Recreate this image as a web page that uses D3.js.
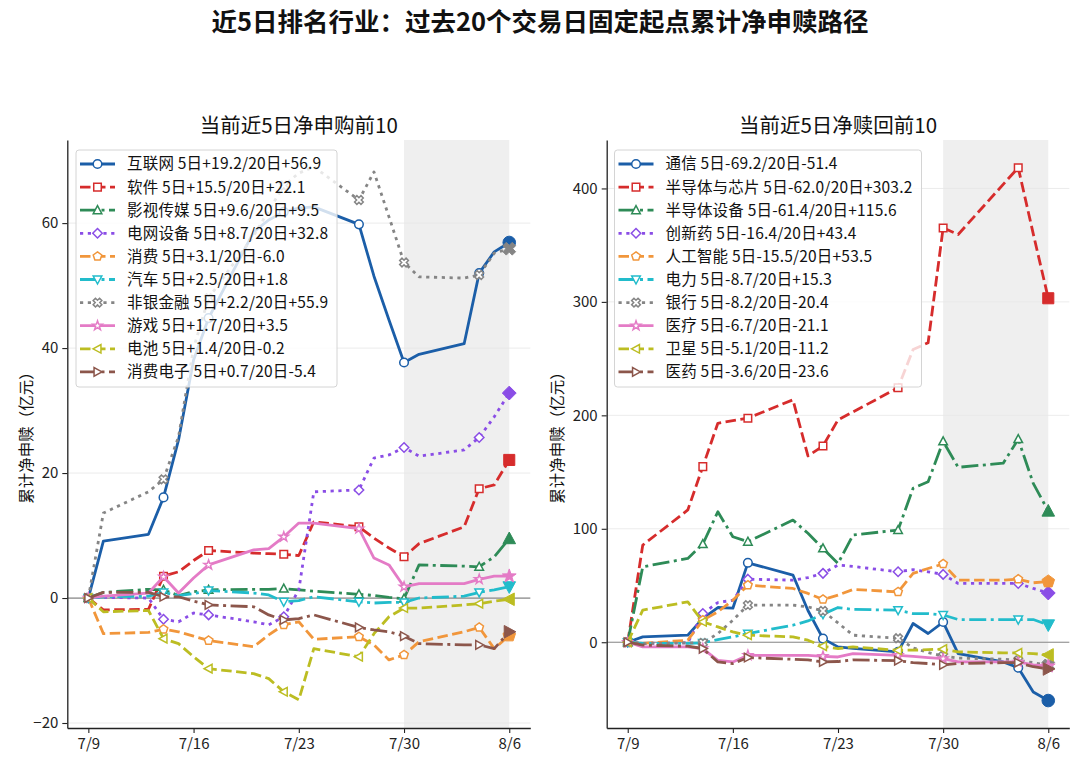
<!DOCTYPE html>
<html><head><meta charset="utf-8">
<script src="https://cdn.jsdelivr.net/npm/d3@7"></script>
<style>
body{margin:0;background:#fff;}
text{font-family:"Noto Sans CJK SC","Noto Sans",sans-serif;}
</style>
</head><body>
<svg id="c" width="1080" height="764"></svg>
<script>
// ---------- data ----------
const dates = ["2025-07-09","2025-07-10","2025-07-13","2025-07-14","2025-07-15","2025-07-16","2025-07-17",
  "2025-07-20","2025-07-21","2025-07-22","2025-07-23","2025-07-24","2025-07-27","2025-07-28","2025-07-29",
  "2025-07-30","2025-07-31","2025-08-03","2025-08-04","2025-08-05","2025-08-06"];
const xTickDates = ["2025-07-09","2025-07-16","2025-07-23","2025-07-30","2025-08-06"];
const xTickLabels = ["7/9","7/16","7/23","7/30","8/6"];
const shadeStart = "2025-07-30";
const shadeEnd = "2025-08-06";

const leftTitle = "当前近5日净申购前10";
const leftLabels = ["互联网 5日+19.2/20日+56.9","软件 5日+15.5/20日+22.1","影视传媒 5日+9.6/20日+9.5",
  "电网设备 5日+8.7/20日+32.8","消费 5日+3.1/20日-6.0","汽车 5日+2.5/20日+1.8","非银金融 5日+2.2/20日+55.9",
  "游戏 5日+1.7/20日+3.5","电池 5日+1.4/20日-0.2","消费电子 5日+0.7/20日-5.4"];
const leftValues = [
  [0,9.1,10.2,16.1,25.3,38.1,44.8,58.6,60.5,61.8,62.4,62.6,59.8,51.5,44.5,37.7,39.0,40.7,52.0,55.4,56.9],
  [0,-1.9,-1.8,3.5,4.2,6.0,7.6,7.2,7.1,7.0,6.8,12.2,11.4,9.6,8.0,6.6,8.7,11.4,17.5,18.1,22.1],
  [0,0.9,1.4,1.3,0.4,1.0,1.3,1.4,1.4,1.5,1.3,1.1,0.6,0.4,0.1,-0.1,5.3,5.1,5.0,6.6,9.5],
  [0,0.1,0.0,-3.4,-3.8,-2.4,-2.7,-3.8,-4.3,-3.0,1.3,17.0,17.3,22.4,22.9,24.1,22.7,23.7,25.7,29.0,32.8],
  [0,-5.7,-5.5,-5.0,-5.4,-6.1,-6.8,-7.8,-5.9,-4.3,-3.8,-6.6,-6.2,-7.5,-9.9,-9.1,-7.0,-5.4,-4.7,-8.1,-6.0],
  [0,0.2,0.3,0.9,0.4,0.7,1.2,0.8,0.5,-0.6,-0.4,0.2,-0.6,-0.8,-0.7,-0.7,0.0,0.3,0.9,1.3,1.8],
  [0,13.6,17.0,19.0,25.8,40,48,58,62,66,68,69,63.7,68.2,61,53.7,51.4,51.2,51.7,55.2,55.9],
  [0,0.3,0.8,3.4,0.8,3.2,5.3,7.7,7.9,9.8,12.0,12.0,11.1,6.4,5.3,1.8,2.3,2.3,3.0,3.5,3.5],
  [0,-2.2,-2.0,-6.5,-7.3,-9.4,-11.3,-12.1,-12.9,-15.0,-16.3,-8.1,-9.4,-5.7,-3.0,-1.6,-1.6,-1.1,-0.9,-0.5,-0.2],
  [0,0.9,0.9,0.2,0.2,-0.5,-1.1,-1.4,-2.7,-3.5,-3.3,-2.7,-4.7,-5.1,-5.4,-6.1,-7.3,-7.5,-7.5,-8.1,-5.4]
];
const leftYTicks = [-20,0,20,40,60];
const leftYDomain = [-20.8,73.3];

const rightTitle = "当前近5日净赎回前10";
const rightLabels = ["通信 5日-69.2/20日-51.4","半导体与芯片 5日-62.0/20日+303.2","半导体设备 5日-61.4/20日+115.6",
  "创新药 5日-16.4/20日+43.4","人工智能 5日-15.5/20日+53.5","电力 5日-8.7/20日+15.3","银行 5日-8.2/20日-20.4",
  "医疗 5日-6.7/20日-21.1","卫星 5日-5.1/20日-11.2","医药 5日-3.6/20日-23.6"];
const rightValues = [
  [0,4.7,6.2,21,30.6,30,70,59.2,28,3.2,-4.1,-5.5,-8.5,16.5,7.7,17.8,-10,-17.4,-22.4,-43.9,-51.4],
  [0,85.6,116.6,154.8,193,195.4,197.5,213.7,164.2,173,196,203,224.3,258,264,365.2,359.4,403.6,418.3,360,303.2],
  [0,66.5,73.9,86.5,115,93,88.6,107.7,96,82.7,69.5,94.5,98.9,135.7,141.5,177.0,154.2,157.8,179,140,115.6],
  [0,-1,-0.5,25.3,35,37,55.6,54.7,57,60.7,68,66.8,62.1,64,62,59.8,51.8,51.8,51.8,47.4,43.4],
  [0,-1,1.8,19.4,26.8,37,50.3,47.4,43,37.7,41.5,46.5,44.4,60.7,65,69.0,54.7,54.7,55.6,52.4,53.5],
  [0,-1,-1,-0.6,2.4,4.7,7.6,15,18.8,24.7,30.6,28.9,28.3,25.3,25.3,24.0,20,20,20,20,15.3],
  [0,-1.2,-0.6,-0.5,7.6,19.4,32.7,32.7,31.2,27.6,17,6.2,3.5,-5,-9,-12.2,-14,-15,-16,-18,-20.4],
  [0,-4.1,-4.1,-5.6,-15.9,-17.4,-11.5,-11.5,-11.5,-12.4,-13,-10,-11.5,-12.5,-13.5,-14.4,-17.4,-17.4,-17.4,-20,-21.1],
  [0,28.3,35.6,18,13.5,9.1,6.2,4.7,1.8,-3.5,-5.6,-4.1,-7.1,-7,-6.5,-6.1,-8.5,-9.4,-9.4,-10,-11.2],
  [0,-2.6,-3.5,-5.6,-17.4,-18.8,-13.5,-15,-15.6,-17.4,-17,-15.6,-16.2,-18,-18.8,-20.0,-18.8,-18,-18,-21.6,-23.6]
];
const rightYTicks = [0,100,200,300,400];
const rightYDomain = [-75.6,442.7];

const mainTitle = "近5日排名行业：过去20个交易日固定起点累计净申赎路径";
const yLabel = "累计净申赎（亿元）";

// ---------- styles ----------
const colors = ["#1b5ea8","#d62c2c","#2e8b57","#8a4de6","#f1963b","#22bccb","#858585","#e47bc6","#bcbd22","#8c564b"];
const DASH = "10.5,4.5", DASHDOT = "17,4.5,3,4.5", DOT = "3.2,4.6";
const dashes = [null, DASH, DASHDOT, DOT, DASH, DASHDOT, DOT, null, DASH, DASHDOT];
const markers = ["o","s","^","D","p","v","X","*","<",">"];
const LW = 2.8;

const parse = d3.utcParse("%Y-%m-%d");

function poly(arr){ return "M" + arr.map(p => p[0].toFixed(2)+","+p[1].toFixed(2)).join("L") + "Z"; }
function rot(arr, deg){ const a = deg*Math.PI/180, c=Math.cos(a), s=Math.sin(a); return arr.map(([x,y])=>[x*c-y*s, x*s+y*c]); }
function markerPath(t, r){
  if (t==="o") return d3.symbol(d3.symbolCircle, Math.PI*r*r)();
  if (t==="s") { const a=r*0.88; return poly([[-a,-a],[a,-a],[a,a],[-a,a]]); }
  if (t==="D") { const a=r*1.1; return poly([[0,-a],[a,0],[0,a],[-a,0]]); }
  const tri = [[0,-r*1.05],[r*1.0,r*0.8],[-r*1.0,r*0.8]];
  if (t==="^") return poly(tri);
  if (t==="v") return poly(rot(tri,180));
  if (t==="<") return poly(rot(tri,-90));
  if (t===">") return poly(rot(tri,90));
  if (t==="p") { const pts=[]; for(let k=0;k<5;k++){const a=(-90+72*k)*Math.PI/180; pts.push([r*1.05*Math.cos(a), r*1.05*Math.sin(a)]);} return poly(pts); }
  if (t==="*") { const pts=[]; for(let k=0;k<10;k++){const a=(-90+36*k)*Math.PI/180; const rr = k%2? r*0.45 : r*1.15; pts.push([rr*Math.cos(a), rr*Math.sin(a)]);} return poly(pts); }
  if (t==="X") { const w=r*0.38, L=r*1.05;
    const plus=[[-w,-L],[w,-L],[w,-w],[L,-w],[L,w],[w,w],[w,L],[-w,L],[-w,w],[-L,w],[-L,-w],[-w,-w]];
    return poly(rot(plus,45)); }
  return d3.symbol(d3.symbolCircle, Math.PI*r*r)();
}

const svg = d3.select("#c");
svg.append("rect").attr("width",1080).attr("height",764).attr("fill","#fff");

svg.append("text").attr("x",540).attr("y",31).attr("text-anchor","middle")
  .attr("font-size",25.5).attr("font-weight","bold").attr("fill","#111").text(mainTitle);

function panel(opt){
  const {x0,x1,y0,y1,yDomain,yTicks,values,labels,title,legendBox,ylabOffset} = opt;
  const g = svg.append("g");
  const tMin = parse(dates[0]).getTime(), tMax = parse(dates[dates.length-1]).getTime();
  const pad = (tMax - tMin)*0.05;
  const x = d3.scaleUtc().domain([new Date(tMin-pad), new Date(tMax+pad)]).range([x0,x1]);
  const y = d3.scaleLinear().domain(yDomain).range([y1,y0]);

  // shaded recent window
  g.append("rect").attr("x",x(parse(shadeStart))).attr("y",y0)
    .attr("width",x(parse(shadeEnd))-x(parse(shadeStart))).attr("height",y1-y0)
    .attr("fill","#efefef");
  // grid
  g.append("g").selectAll("line").data(yTicks).join("line")
    .attr("x1",x0).attr("x2",x1).attr("y1",d=>y(d)).attr("y2",d=>y(d))
    .attr("stroke","#e6e6e6").attr("stroke-width",0.8);
  // zero line
  g.append("line").attr("x1",x0).attr("x2",x1).attr("y1",y(0)).attr("y2",y(0))
    .attr("stroke","#8a8a8a").attr("stroke-width",1.2);

  const line = d3.line().x((d,i)=>x(parse(dates[i]))).y(d=>y(d));
  values.forEach((vals,k)=>{
    const sg = g.append("g");
    sg.append("path").attr("d",line(vals)).attr("fill","none")
      .attr("stroke",colors[k]).attr("stroke-width",LW)
      .attr("stroke-dasharray",dashes[k]).attr("stroke-linejoin","round");
    const idx = vals.map((v,i)=>i).filter(i=> i%3===0 && i<vals.length-1);
    sg.selectAll("path.m").data(idx).join("path").attr("class","m")
      .attr("d",markerPath(markers[k],4.3))
      .attr("transform",i=>`translate(${x(parse(dates[i]))},${y(vals[i])})`)
      .attr("fill","#fff").attr("stroke",colors[k]).attr("stroke-width",1.5);
    const last = vals.length-1;
    sg.append("path").attr("d",markerPath(markers[k],6.3))
      .attr("transform",`translate(${x(parse(dates[last]))},${y(vals[last])})`)
      .attr("fill",colors[k]).attr("stroke",colors[k]).attr("stroke-width",1);
  });

  // axes
  const ax = g.append("g").attr("transform",`translate(${x0},0)`)
    .call(d3.axisLeft(y).tickValues(yTicks).tickSize(5).tickSizeOuter(0).tickPadding(4));
  const bx = g.append("g").attr("transform",`translate(0,${y1})`)
    .call(d3.axisBottom(x).tickValues(xTickDates.map(parse)).tickFormat((d,i)=>xTickLabels[i])
      .tickSize(5).tickSizeOuter(0).tickPadding(5));
  [ax,bx].forEach(a=>{
    a.selectAll("text").attr("font-size",15).attr("fill","#222")
      .attr("font-family","'Noto Sans CJK SC','Noto Sans',sans-serif");
    a.select(".domain").attr("stroke","#222").attr("stroke-width",1.3);
    a.selectAll(".tick line").attr("stroke","#222").attr("stroke-width",1.1);
  });

  // subplot title
  g.append("text").attr("x",(x0+x1)/2).attr("y",y0-7).attr("text-anchor","middle")
    .attr("font-size",20.5).attr("fill","#111").text(title);
  // y label
  g.append("text").attr("transform",`translate(${x0-ylabOffset},${(y0+y1)/2}) rotate(-90)`)
    .attr("text-anchor","middle").attr("font-size",15.5).attr("fill","#111").text(yLabel);

  // legend
  const lb = legendBox;
  const lg = g.append("g");
  lg.append("rect").attr("x",lb.x).attr("y",lb.y).attr("width",lb.w).attr("height",lb.h)
    .attr("rx",3).attr("fill","#fff").attr("fill-opacity",0.8).attr("stroke","#d4d4d4").attr("stroke-width",1);
  labels.forEach((lab,k)=>{
    const cy = lb.y + 14 + k*23.1;
    const hx = lb.x + 4;
    lg.append("line").attr("x1",hx).attr("x2",hx+35).attr("y1",cy).attr("y2",cy)
      .attr("stroke",colors[k]).attr("stroke-width",LW).attr("stroke-dasharray",dashes[k]);
    lg.append("path").attr("d",markerPath(markers[k],4.3)).attr("transform",`translate(${hx+17.5},${cy})`)
      .attr("fill","#fff").attr("stroke",colors[k]).attr("stroke-width",1.5);
    lg.append("text").attr("x",hx+47).attr("y",cy).attr("dy","0.35em")
      .attr("font-size",15.5).attr("letter-spacing",0.2).attr("fill","#111").text(lab);
  });
}

panel({x0:67.3,x1:530.3,y0:140,y1:728,yDomain:leftYDomain,yTicks:leftYTicks,values:leftValues,
  labels:leftLabels,title:leftTitle,legendBox:{x:76,y:150,w:261,h:237},ylabOffset:35});
panel({x0:606.7,x1:1069.3,y0:140,y1:728,yDomain:rightYDomain,yTicks:rightYTicks,values:rightValues,
  labels:rightLabels,title:rightTitle,legendBox:{x:614.5,y:150,w:307,h:237},ylabOffset:44});
</script>
</body></html>
